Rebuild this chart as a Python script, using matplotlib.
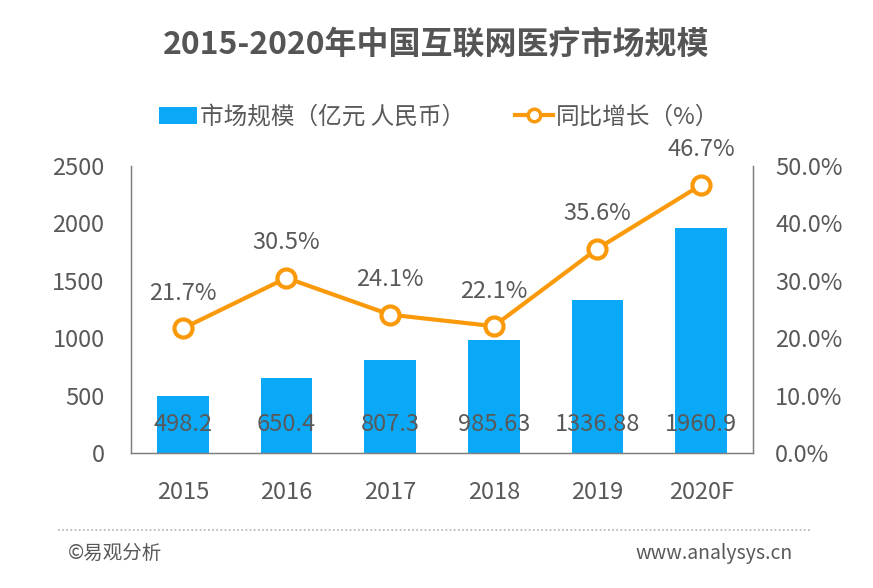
import matplotlib
matplotlib.use("Agg")
import matplotlib.pyplot as plt
from matplotlib.lines import Line2D
from matplotlib.patches import Patch

plt.rcParams["font.family"] = ["Noto Sans CJK SC", "DejaVu Sans"]

# data
years = ["2015", "2016", "2017", "2018", "2019", "2020F"]
market_size = [498.2, 650.4, 807.3, 985.63, 1336.88, 1960.9]
size_labels = ["498.2", "650.4", "807.3", "985.63", "1336.88", "1960.9"]
growth = [21.7, 30.5, 24.1, 22.1, 35.6, 46.7]
left_ticks = [0, 500, 1000, 1500, 2000, 2500]
right_ticks = [0, 10, 20, 30, 40, 50]

BAR = "#0AA9F8"
LINE = "#FA9A0A"
TXT = "#595959"
AXC = "#7f7f7f"

fig = plt.figure(figsize=(8.73, 5.88), dpi=100)
ax = fig.add_axes([0.150, 0.2296, 0.7125, 0.4881])
x = list(range(len(years)))

ax.bar(x, market_size, width=0.5, color=BAR, zorder=2)
for xi, lab in zip(x, size_labels):
    ax.text(xi, 245, lab, ha="center", va="center", fontsize=17, color=TXT, zorder=4)

ax.set_xlim(-0.5, 5.5)
ax.set_ylim(0, 2500)
ax.set_yticks(left_ticks)
ax.set_yticklabels([str(t) for t in left_ticks])
ax.set_xticks(x)
ax.set_xticklabels(years)
ax.tick_params(axis="both", length=0, labelsize=17, labelcolor=TXT)
ax.tick_params(axis="y", pad=19)
ax.tick_params(axis="x", pad=20)
ax.spines["top"].set_visible(False)
for s in ["left", "right", "bottom"]:
    ax.spines[s].set_color(AXC)
    ax.spines[s].set_linewidth(1.0)
ax.patch.set_alpha(0)

ax2 = ax.twinx()
ax2.plot(x, growth, color=LINE, linewidth=3, marker="o", markersize=13,
         markerfacecolor="white", markeredgecolor=LINE, markeredgewidth=3, zorder=5)
for xi, g in zip(x, growth):
    ax2.annotate(f"{g}%", (xi, g), xytext=(0, 17), textcoords="offset points",
                 ha="center", va="bottom", fontsize=17, color=TXT)
ax2.set_ylim(0, 50)
ax2.set_yticks(right_ticks)
ax2.set_yticklabels([f"{t:.1f}%" for t in right_ticks])
ax2.tick_params(axis="y", length=0, labelsize=17, labelcolor=TXT, pad=16)
ax2.spines["top"].set_visible(False)
for s in ["left", "right", "bottom"]:
    ax2.spines[s].set_color(AXC)

# legend
handles = [
    Patch(facecolor=BAR, edgecolor="none"),
    Line2D([0], [0], color=LINE, linewidth=3, marker="o", markersize=9,
           markerfacecolor="white", markeredgecolor=LINE, markeredgewidth=2.5),
]
fig.legend(handles, ["市场规模（亿元 人民币）", "同比增长（%）"], loc="center",
           bbox_to_anchor=(0.503, 1 - 117 / 588), ncol=2, frameon=False,
           fontsize=17, labelcolor=TXT, handlelength=1.6, handleheight=0.75,
           handletextpad=0.15, columnspacing=2.1)

fig.text(0.5, 1 - 45 / 588, "2015-2020年中国互联网医疗市场规模", ha="center",
         va="center", fontsize=23, fontweight="bold", color="#555555")

# footer
fig.add_artist(Line2D([58 / 873, 810 / 873], [1 - 530 / 588, 1 - 530 / 588],
                      color="#b0b0b0", linewidth=1.2, linestyle=(0, (1, 1.5))))
fig.text(68 / 873, 1 - 553 / 588, "©易观分析", ha="left", va="center",
         fontsize=14, color=TXT)
fig.text(793 / 873, 1 - 553 / 588, "www.analysys.cn", ha="right", va="center",
         fontsize=14, color=TXT)

fig.savefig("out.png", dpi=100)
